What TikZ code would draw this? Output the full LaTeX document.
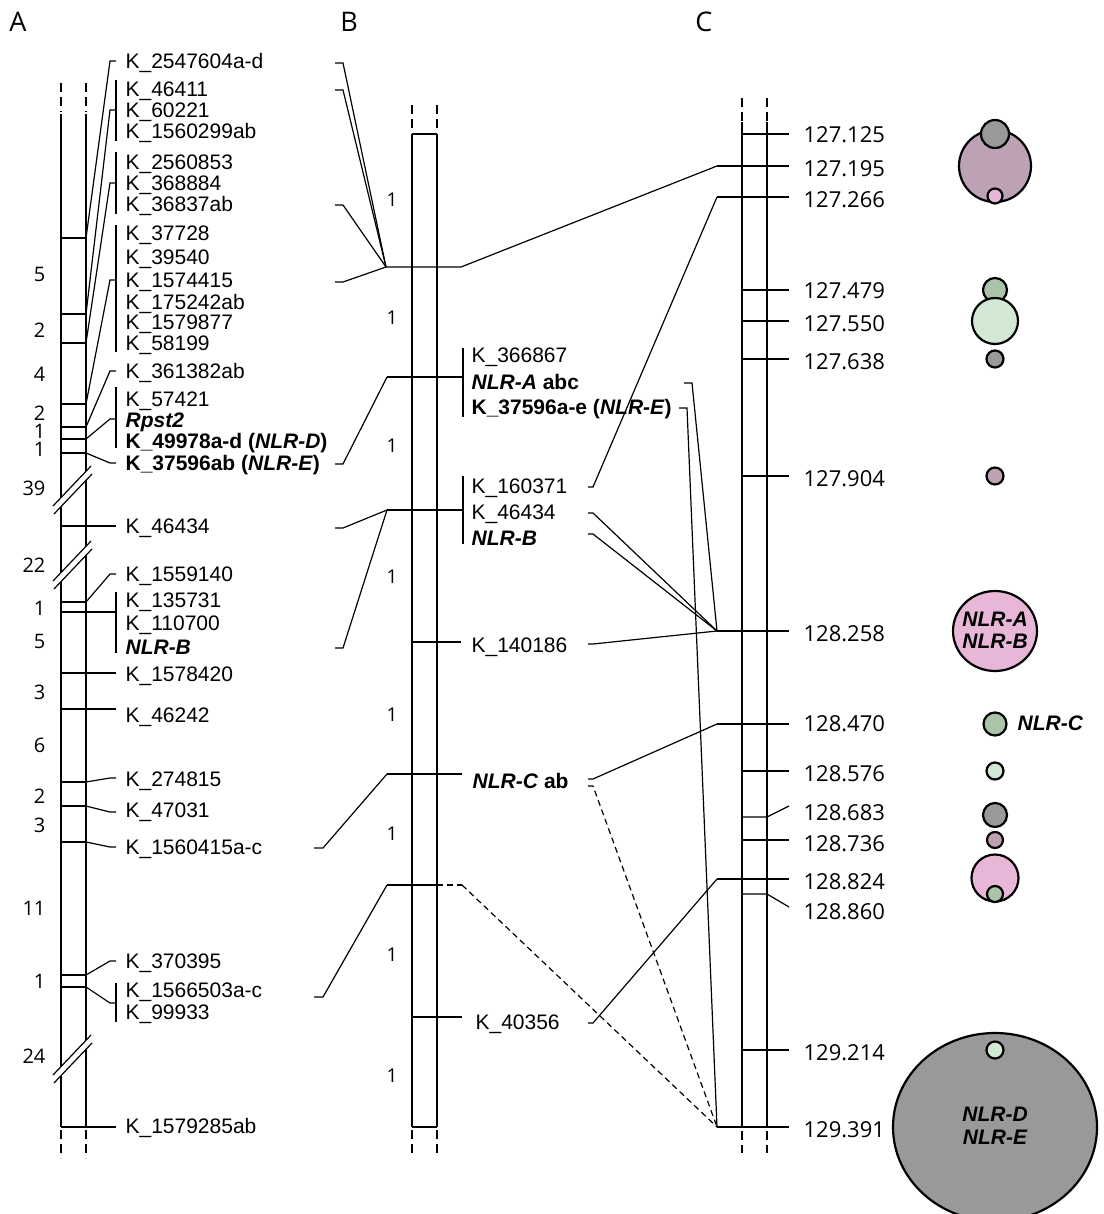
\documentclass[tikz,border=0pt]{standalone}
\usepackage{fontspec}
\setmainfont{Liberation Sans}
\newfontfamily\osf{Open Sans}
\definecolor{cgrey}{HTML}{999999}
\definecolor{cmauve}{HTML}{BDA1B5}
\definecolor{cpink}{HTML}{E8B7D8}
\definecolor{cgreen}{HTML}{A9C4A9}
\definecolor{clgreen}{HTML}{D2E8D4}
\begin{document}
\begin{tikzpicture}[x=1pt,y=-1pt,line width=1.2pt,
  lab/.style={anchor=west,inner sep=0pt,text height=15pt,text depth=0pt,font=\fontsize{21}{24}\selectfont},
  num/.style={anchor=west,inner sep=0pt,text height=15.7pt,text depth=0pt,font=\osf\fontsize{22}{26}\selectfont},
  cnt/.style={anchor=east,inner sep=0pt,text height=14pt,text depth=0pt,font=\osf\fontsize{20}{22}\selectfont},
  dist/.style={anchor=center,inner sep=0pt,text height=13.6pt,text depth=0pt,font=\osf\fontsize{19}{22}\selectfont},
  hdr/.style={anchor=center,inner sep=0pt,text height=19pt,text depth=0pt,font=\osf\fontsize{27}{30}\selectfont},
  inlab/.style={anchor=center,inner sep=0pt,text height=15pt,text depth=0pt,font=\fontsize{21}{24}\selectfont\bfseries\itshape},
  dsh/.style={dash pattern=on 9pt off 5pt},
  ddash/.style={dash pattern=on 6pt off 4pt},
  blob/.style={draw=black,line width=2.2pt}]
\useasboundingbox (0,0) rectangle (1103,1214);

% ---------------- headers
\node[hdr] (hA) at (18,22) {A};
\node[hdr] (hB) at (349,22) {B};
\node[hdr] (hC) at (704,22) {C};

% ---------------- panel A bar
\draw (61,114) -- (61,1127);
\draw (86,114) -- (86,1127);
\draw[dsh] (61,83) -- (61,112);
\draw[dsh] (86,83) -- (86,112);
\draw[dsh] (61,1130) -- (61,1158);
\draw[dsh] (86,1130) -- (86,1158);
\foreach \y in {238,314,343,404,427,439,453,526,602,612,673,709,782,806,842,975,987,1127}
  \draw (61,\y) -- (86,\y);
% breaks
\foreach \cy in {488,563,1057}{
  \fill[white] (53,\cy+18) -- (91,\cy-22) -- (92,\cy-14) -- (54,\cy+26) -- cycle;
  \draw (53,\cy+18) -- (91,\cy-22);
  \draw (54,\cy+26) -- (92,\cy-14);
}
% interval numbers
\foreach \y/\t in {275/5,330/2,374/4,413/2,431/1,449/1,488/39,565/22,608/1,641/5,692/3,745/6,796/2,825/3,908/11,981/1,1056/24}
  \node[cnt] at (46,\y) {\t};

% labels A
\node[lab] (a1) at (125,61) {K\_2547604a-d};
\node[lab] (a2) at (125,89) {K\_46411};
\node[lab] (a3) at (125,110) {K\_60221};
\node[lab] (a4) at (125,131) {K\_1560299ab};
\node[lab] (a5) at (125,162) {K\_2560853};
\node[lab] (a6) at (125,183) {K\_368884};
\node[lab] (a7) at (125,204) {K\_36837ab};
\node[lab] (a8) at (125,233) {K\_37728};
\node[lab] (a9) at (125,257) {K\_39540};
\node[lab] (a10) at (125,280) {K\_1574415};
\node[lab] (a11) at (125,302) {K\_175242ab};
\node[lab] (a12) at (125,322) {K\_1579877};
\node[lab] (a13) at (125,343) {K\_58199};
\node[lab] (a14) at (125,371) {K\_361382ab};
\node[lab] (a15) at (125,399) {K\_57421};
\node[lab] (a16) at (125,420) {\textbf{\textit{Rpst2}}};
\node[lab] (a17) at (125,441) {\textbf{K\_49978a-d (\textit{NLR-D})}};
\node[lab] (a18) at (125,463) {\textbf{K\_37596ab (\textit{NLR-E})}};
\node[lab] (a19) at (125,526) {K\_46434};
\node[lab] (a20) at (125,574) {K\_1559140};
\node[lab] (a21) at (125,600) {K\_135731};
\node[lab] (a22) at (125,623) {K\_110700};
\node[lab] (a23) at (125,647) {\textbf{\textit{NLR-B}}};
\node[lab] (a24) at (125,674) {K\_1578420};
\node[lab] (a25) at (125,715) {K\_46242};
\node[lab] (a26) at (125,779) {K\_274815};
\node[lab] (a27) at (125,810) {K\_47031};
\node[lab] (a28) at (125,847) {K\_1560415a-c};
\node[lab] (a29) at (125,961) {K\_370395};
\node[lab] (a30) at (125,990) {K\_1566503a-c};
\node[lab] (a31) at (125,1012) {K\_99933};
\node[lab] (a32) at (125,1126) {K\_1579285ab};

% brackets A
\draw (116,80) -- (116,141);
\draw (116,152) -- (116,214);
\draw (116,225) -- (116,352);
\draw (116,387) -- (116,448);
\draw (116,592) -- (116,653);
\draw (116,983) -- (116,1022);
% connectors A bar -> labels
\draw (86,238) -- (110,61) -- (116,61);
\draw (86,314) -- (110,110) -- (116,110);
\draw (86,343) -- (110,183) -- (116,183);
\draw (86,404) -- (110,280) -- (116,280);
\draw (86,427) -- (110,371) -- (116,371);
\draw (86,439) -- (110,419) -- (116,419);
\draw (86,453) -- (110,463) -- (116,463);
\draw (86,526) -- (116,526);
\draw (86,602) -- (110,574) -- (116,574);
\draw (86,612) -- (116,612);
\draw (86,673) -- (116,673);
\draw (86,709) -- (116,709);
\draw (86,782) -- (110,778) -- (116,778);
\draw (86,806) -- (110,812) -- (116,812);
\draw (86,842) -- (110,847) -- (116,847);
\draw (86,975) -- (110,961) -- (116,961);
\draw (86,987) -- (110,1003) -- (116,1003);
\draw (86,1127) -- (116,1127);

% ---------------- panel B bar
\draw (412,134) -- (412,1127);
\draw (437,134) -- (437,1127);
\draw (412,134) -- (437,134);
\draw (412,1127) -- (437,1127);
\draw[dsh] (412,105) -- (412,131);
\draw[dsh] (437,105) -- (437,131);
\draw[dsh] (412,1130) -- (412,1157);
\draw[dsh] (437,1130) -- (437,1157);
\foreach \y in {200,318,446,577,715,834,955,1076}
  \node[dist] at (392,\y) {1};

\coordinate (b1) at (386,267);
\coordinate (b2) at (387,377);
\coordinate (b3) at (387,510);
\coordinate (b5) at (387,774);
\coordinate (b6) at (387,885);

% labels B
\node[lab] (m1) at (471,355) {K\_366867};
\node[lab] (m2) at (471,382) {\textbf{\textit{NLR-A} abc}};
\node[lab] (m3) at (471,407) {\textbf{K\_37596a-e (\textit{NLR-E})}};
\node[lab] (m4) at (471,486) {K\_160371};
\node[lab] (m5) at (471,512) {K\_46434};
\node[lab] (m6) at (471,538) {\textbf{\textit{NLR-B}}};
\node[lab] (m7) at (471,645) {K\_140186};
\node[lab] (m8) at (472,781) {\textbf{\textit{NLR-C} ab}};
\node[lab] (m9) at (475,1022) {K\_40356};
\draw (463,348) -- (463,417);
\draw (463,476) -- (463,544);

% B markers
\draw (b2) -- (463,377);
\draw (b3) -- (463,510);
\draw (412,642) -- (461,642);
\draw (b5) -- (462,774);
\draw (b6) -- (437,885);
\draw[ddash] (437,885) -- (462,885);
\draw (412,1017) -- (462,1017);

% A -> B connectors
\draw (335,63) -- (343,63) -- (b1);
\draw (335,90) -- (343,90) -- (b1);
\draw (335,205) -- (343,205) -- (b1);
\draw (335,282) -- (343,282) -- (b1);
\draw (335,464) -- (343,464) -- (b2);
\draw (335,528) -- (343,528) -- (b3);
\draw (335,648) -- (343,648) -- (b3);
\draw (314,848) -- (323,848) -- (b5);
\draw (314,997) -- (323,997) -- (b6);

% ---------------- panel C bar
\draw (742,122) -- (742,1127);
\draw (767,122) -- (767,1127);
\draw[dsh] (742,98) -- (742,121);
\draw[dsh] (767,98) -- (767,121);
\draw[dsh] (742,1131) -- (742,1153);
\draw[dsh] (767,1131) -- (767,1153);
\foreach \y in {134,290,321,359,476,771,840,1050}
  \draw (742,\y) -- (789,\y);
\draw (742,817) -- (767,817) -- (789,806);
\draw (742,894) -- (767,894) -- (789,907);

\coordinate (c195) at (717,166);
\coordinate (c266) at (717,197);
\coordinate (c258) at (717,631);
\coordinate (c470) at (717,724);
\coordinate (c824) at (717,879);
\coordinate (c391) at (717,1127);
\foreach \c in {c195,c266,c258,c470,c824,c391}
  \draw (\c) -- ++(72,0);

% B -> C connectors
\draw (b1) -- (461,267) -- (c195);
\draw (588,487) -- (593,487) -- (c266);
\draw (588,513) -- (593,513) -- (c258);
\draw (588,534) -- (593,534) -- (c258);
\draw (588,644) -- (593,644) -- (c258);
\draw (684,383) -- (692,383) -- (c258);
\draw (679,408) -- (687,408) -- (c391);
\draw (588,779) -- (593,779) -- (c470);
\draw[ddash] (588,786) -- (593,786) -- (c391);
\draw[ddash] (462,885) -- (c391);
\draw (588,1023) -- (593,1023) -- (c824);

% labels C
\foreach \y/\t in {135/127.125,169/127.195,200/127.266,291/127.479,324/127.550,362/127.638,479/127.904,634/128.258,724/128.470,774/128.576,813/128.683,844/128.736,882/128.824,912/128.860,1053/129.214,1130/129.391}
  \node[num] at (803,\y) {\t};

% ---------------- circles
\filldraw[blob,fill=cmauve] (995,166) circle (36);
\filldraw[blob,fill=cgrey] (995,134) circle (14);
\filldraw[blob,fill=cpink] (995,196) circle (7.5);
\filldraw[blob,fill=cgreen] (995,290) circle (12);
\filldraw[blob,fill=clgreen] (995,321) circle (23);
\filldraw[blob,fill=cgrey] (995,359) circle (8.5);
\filldraw[blob,fill=cmauve] (995,476) circle (8.5);
\filldraw[blob,fill=cpink] (995,631) ellipse (42 and 40);
\node[inlab] (nab1) at (995,619) {NLR-A};
\node[inlab] (nab2) at (995,641) {NLR-B};
\filldraw[blob,fill=cgreen] (995,724) circle (11.5);
\node[lab,font=\fontsize{21}{24}\selectfont\bfseries\itshape] (nc) at (1017,723) {NLR-C};
\filldraw[blob,fill=clgreen] (995,771) circle (8.5);
\filldraw[blob,fill=cgrey] (995,815) circle (12);
\filldraw[blob,fill=cmauve] (995,840) circle (8);
\filldraw[blob,fill=cpink] (995,878) circle (23.5);
\filldraw[blob,fill=cgreen] (995,894) circle (8);
\filldraw[blob,fill=cgrey] (995,1127) ellipse (102 and 94);
\filldraw[blob,fill=clgreen] (995,1050) circle (8.5);
\node[inlab] (nde1) at (995,1114) {NLR-D};
\node[inlab] (nde2) at (995,1137) {NLR-E};
\end{tikzpicture}
\end{document}
